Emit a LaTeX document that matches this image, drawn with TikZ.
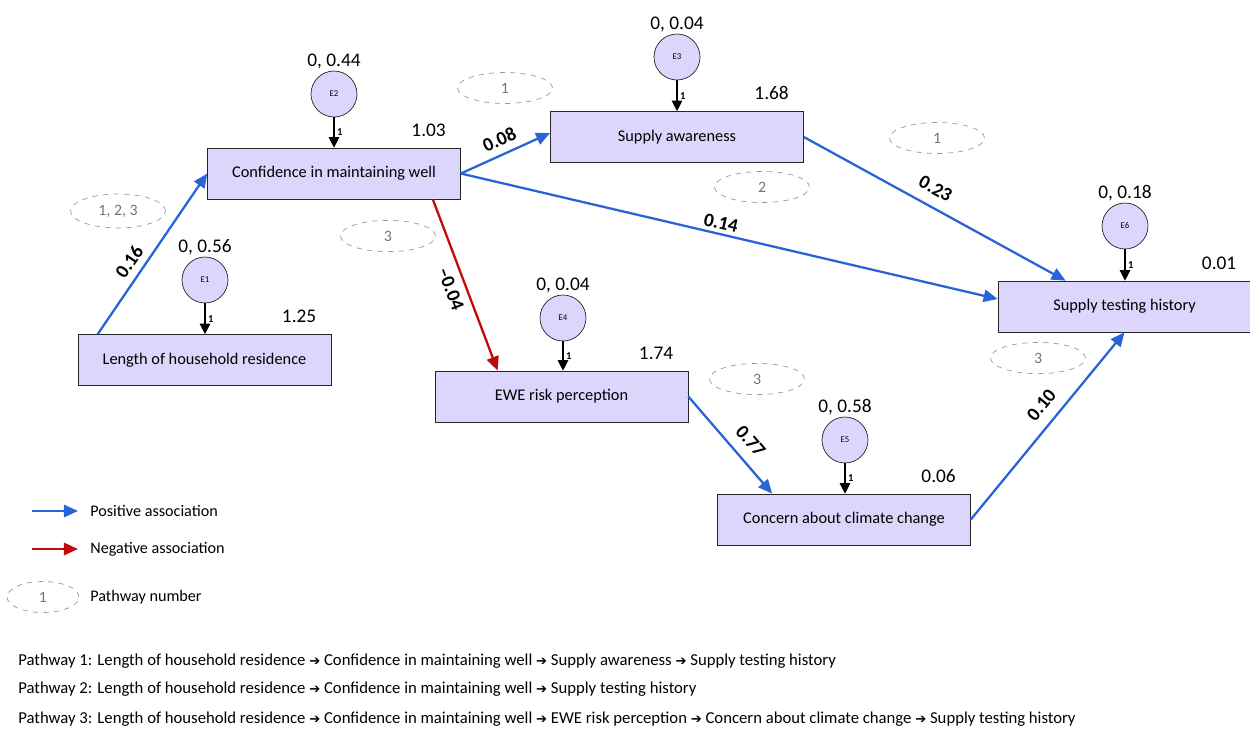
\documentclass[tikz,border=0pt]{standalone}
\usepackage{fontspec}
\setmainfont{Carlito}
\newfontfamily\arrowfont{DejaVu Sans}
\usetikzlibrary{calc,arrows.meta,shapes.geometric}
\definecolor{boxfill}{RGB}{220,214,252}
\definecolor{posblue}{RGB}{40,100,215}
\definecolor{negred}{RGB}{195,10,10}
\newcommand{\pathto}{{\arrowfont\fontsize{7.5}{8}\selectfont ➔}}

\begin{document}
\begin{tikzpicture}[x=0.02cm,y=-0.02cm,
    var/.style={draw=black!85,fill=boxfill,minimum width=5.06cm,minimum height=1.02cm,font=\fontsize{9.3}{11}\selectfont},
    err/.style={draw=black!85,fill=boxfill,circle,minimum size=0.92cm,inner sep=0pt,font=\fontsize{5}{6}\selectfont},
    num/.style={font=\fontsize{11}{13}\selectfont,inner sep=1pt},
    coef/.style={font=\bfseries\fontsize{11}{13}\selectfont,sloped,inner sep=4pt},
    pway/.style={ellipse,draw=black!40,dashed,text=black!55,minimum width=1.9cm,minimum height=0.6cm,font=\fontsize{9}{11}\selectfont},
    posarr/.style={draw=posblue,line width=1.3pt,-{Triangle[length=8pt,width=7pt]}},
    negarr/.style={draw=negred,line width=1.3pt,-{Triangle[length=8pt,width=7pt]}},
    errarr/.style={draw=black,line width=0.6pt,-{Triangle[length=6pt,width=6pt]}},
    one/.style={right,font=\bfseries\fontsize{6}{7}\selectfont,inner sep=1.5pt},
    foot/.style={anchor=west,font=\fontsize{9.5}{11}\selectfont,inner sep=0pt}]
    \useasboundingbox (0,0) rectangle (1250,731);

    % observed variables
    \node[var] (len)  at (204.5,360)  {Length of household residence};
    \node[var] (conf) at (334,173.5)  {Confidence in maintaining well};
    \node[var] (aware) at (677,137)   {Supply awareness};
    \node[var] (ewe)  at (561.5,396.5) {EWE risk perception};
    \node[var] (cc)   at (844,519.5)  {Concern about climate change};
    \node[var] (test) at (1124.5,306.5) {Supply testing history};

    % error terms
    \node[err,label={[num]above:{0, 0.56}}] (e1) at (205,280)  {E1};
    \node[err,label={[num]above:{0, 0.44}}] (e2) at (334,94)   {E2};
    \node[err,label={[num]above:{0, 0.04}}] (e3) at (677,57)   {E3};
    \node[err,label={[num]above:{0, 0.04}}] (e4) at (563,318)  {E4};
    \node[err,label={[num]above:{0, 0.58}}] (e5) at (845,440)  {E5};
    \node[err,label={[num]above:{0, 0.18}}] (e6) at (1125,226) {E6};
    \draw[errarr] (e1) -- node[one]{1} (e1 |- len.north);
    \draw[errarr] (e2) -- node[one]{1} (e2 |- conf.north);
    \draw[errarr] (e3) -- node[one]{1} (e3 |- aware.north);
    \draw[errarr] (e4) -- node[one]{1} (e4 |- ewe.north);
    \draw[errarr] (e5) -- node[one]{1} (e5 |- cc.north);
    \draw[errarr] (e6) -- node[one]{1} (e6 |- test.north);

    % R squared
    \node[num,anchor=south east] (r1) at ([xshift=-0.26cm,yshift=0.18cm]len.north east)   {1.25};
    \node[num,anchor=south east] (r2) at ([xshift=-0.26cm,yshift=0.18cm]conf.north east)  {1.03};
    \node[num,anchor=south east] (r3) at ([xshift=-0.26cm,yshift=0.18cm]aware.north east) {1.68};
    \node[num,anchor=south east] (r4) at ([xshift=-0.26cm,yshift=0.18cm]ewe.north east)   {1.74};
    \node[num,anchor=south east] (r5) at ([xshift=-0.26cm,yshift=0.18cm]cc.north east)    {0.06};
    \node[num,anchor=south east] (r6) at ([xshift=-0.26cm,yshift=0.18cm]test.north east)  {0.01};

    % paths
    \draw[posarr] ([xshift=0.4cm]len.north west) -- node[coef,above,pos=0.4]{0.16} (conf.west);
    \draw[posarr] (conf.east) -- node[coef,above]{0.08} ([yshift=0.08cm]aware.west);
    \draw[posarr] (conf.east) -- node[coef,above,pos=0.48,inner sep=2pt]{0.14} ([yshift=0.15cm]test.west);
    \draw[negarr] ([xshift=-0.56cm]conf.south east) -- node[coef,below,pos=0.49]{–0.04} ([xshift=1.26cm]ewe.north west);
    \draw[posarr] (aware.east) -- node[coef,above,pos=0.47,inner sep=6pt]{0.23} ([xshift=1.36cm]test.north west);
    \draw[posarr] (ewe.east) -- node[coef,above,pos=0.58,inner sep=6pt]{0.77} ([xshift=1.1cm]cc.north west);
    \draw[posarr] (cc.east) -- node[coef,above,pos=0.55,inner sep=6pt]{0.10} (test.south);

    % pathway numbers
    \node[pway] (p123) at (118,211)  {1, 2, 3};
    \node[pway] (p3a)  at (388,236)  {3};
    \node[pway] (p1a)  at (505,88)   {1};
    \node[pway] (p2)   at (762,187)  {2};
    \node[pway] (p1b)  at (937,138)  {1};
    \node[pway] (p3b)  at (757,379)  {3};
    \node[pway] (p3c)  at (1038,358) {3};

    % legend
    \coordinate (lg1a) at (32,511); \coordinate (lg1b) at (78,511);
    \coordinate (lg2a) at (32,549); \coordinate (lg2b) at (78,549);
    \draw[posarr] (lg1a) -- (lg1b);
    \draw[negarr] (lg2a) -- (lg2b);
    \node[foot,font=\fontsize{9.2}{11}\selectfont] (lgpos) at (90,511) {Positive association};
    \node[foot,font=\fontsize{9.2}{11}\selectfont] (lgneg) at (90,549) {Negative association};
    \node[pway,minimum width=1.44cm,minimum height=0.44cm] (lgway) at (43,597) {1};
    \node[foot,font=\fontsize{9.2}{11}\selectfont] (lgtxt) at (90,597) {Pathway number};

    % pathways
    \node[foot] (pw1) at (18,661) {Pathway 1: Length of household residence \pathto{} Confidence in maintaining well \pathto{} Supply awareness \pathto{} Supply testing history};
    \node[foot] (pw2) at (18,689) {Pathway 2: Length of household residence \pathto{} Confidence in maintaining well \pathto{} Supply testing history};
    \node[foot] (pw3) at (18,719) {Pathway 3: Length of household residence \pathto{} Confidence in maintaining well \pathto{} EWE risk perception \pathto{} Concern about climate change \pathto{} Supply testing history};
\end{tikzpicture}
\end{document}
